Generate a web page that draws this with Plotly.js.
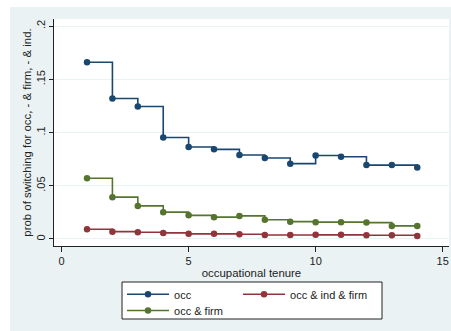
<!DOCTYPE html>
<html><head><meta charset="utf-8">
<script src="https://cdn.plot.ly/plotly-3.0.1.min.js"></script>
<style>html,body{margin:0;padding:0;background:#fff}</style>
</head><body><div id="chart" style="width:451px;height:331px"></div>
<script>
const tenure = [1,2,3,4,5,6,7,8,9,10,11,12,13,14];
const occ = [0.166,0.132,0.1245,0.0953,0.0864,0.0842,0.0789,0.0761,0.0708,0.0785,0.0772,0.0694,0.0694,0.0672];
const occIndFirm = [0.0092,0.0069,0.0063,0.0057,0.0048,0.0048,0.0044,0.0038,0.0038,0.0039,0.0039,0.0035,0.0035,0.0028];
const occFirm = [0.057,0.0393,0.0311,0.0252,0.0222,0.0205,0.0217,0.018,0.0163,0.0158,0.0158,0.0154,0.0123,0.0123];
const seriesNames = ['occ','occ & ind & firm','occ & firm'];
const xTickVals = [0,5,10,15];
const yTickVals = [0,0.05,0.1,0.15,0.2];
const yTickText = ['0','.05','.1','.15','.2'];

const colors = ['#1a476f','#90353b','#55752f'];
const font = {family:'"Liberation Sans", Arial, sans-serif', size:11, color:'#222'};
const titleFont = {family:'"Liberation Sans", Arial, sans-serif', size:11.4, color:'#222'};

function tr(y, i, legend, lw){
  return {x: tenure, y: y, name: seriesNames[i], type:'scatter', mode:'lines+markers',
    line:{shape:'hv', color:colors[i], width:1.6},
    marker:{color:colors[i], size:6.5}, legend: legend, legendwidth: lw};
}
const data = [tr(occ,0,'legend',59), tr(occIndFirm,1,'legend',100), tr(occFirm,2,'legend2',100)];

const layout = {
  width:451, height:331,
  margin:{l:54, r:2, t:19, b:85},
  paper_bgcolor:'#eaf2f3', plot_bgcolor:'#ffffff',
  font: font,
  showlegend:true,
  xaxis:{range:[-0.30,15.25], tickvals:xTickVals, ticktext:xTickVals.map(String),
    showgrid:false, zeroline:false, showline:true, linecolor:'#222', linewidth:1,
    ticks:'outside', ticklen:5, tickcolor:'#222', tickfont:font,
    title:{text:'occupational tenure', font:titleFont, standoff:2}},
  yaxis:{range:[-0.0066,0.2067], tickvals:yTickVals, ticktext:yTickText, tickangle:-90,
    showgrid:true, gridcolor:'#eaf2f3', gridwidth:1, zeroline:false, showline:true,
    linecolor:'#222', linewidth:1, ticks:'outside', ticklen:4, tickcolor:'#222', tickfont:font,
    title:{text:'prob of switching for occ, - & firm, - & ind.', font:titleFont, standoff:0}},
  legend:{orientation:'h', x:0.1722, xanchor:'left', y:-0.149, yanchor:'top',
    bgcolor:'rgba(0,0,0,0)', borderwidth:0, font:font, itemwidth:42, tracegroupgap:0},
  legend2:{orientation:'h', x:0.1722, xanchor:'left', y:-0.220, yanchor:'top',
    bgcolor:'rgba(0,0,0,0)', borderwidth:0, font:font, itemwidth:42},
  shapes:[
    {type:'rect', xref:'paper', yref:'paper', x0:0.1722, x1:0.8304, y0:-0.3216, y1:-0.1586,
     fillcolor:'#ffffff', line:{color:'#222', width:1}, layer:'above'},
    {type:'rect', xref:'paper', yref:'paper', x0:-0.2, x1:-0.1114, y0:-0.5, y1:1.2,
     fillcolor:'#ffffff', line:{width:0}, layer:'below'},
    {type:'rect', xref:'paper', yref:'paper', x0:-0.2, x1:1.2, y0:1.0529, y1:1.2,
     fillcolor:'#ffffff', line:{width:0}, layer:'below'}
  ]
};
Plotly.newPlot('chart', data, layout, {displayModeBar:false, staticPlot:true});
</script></body></html>
